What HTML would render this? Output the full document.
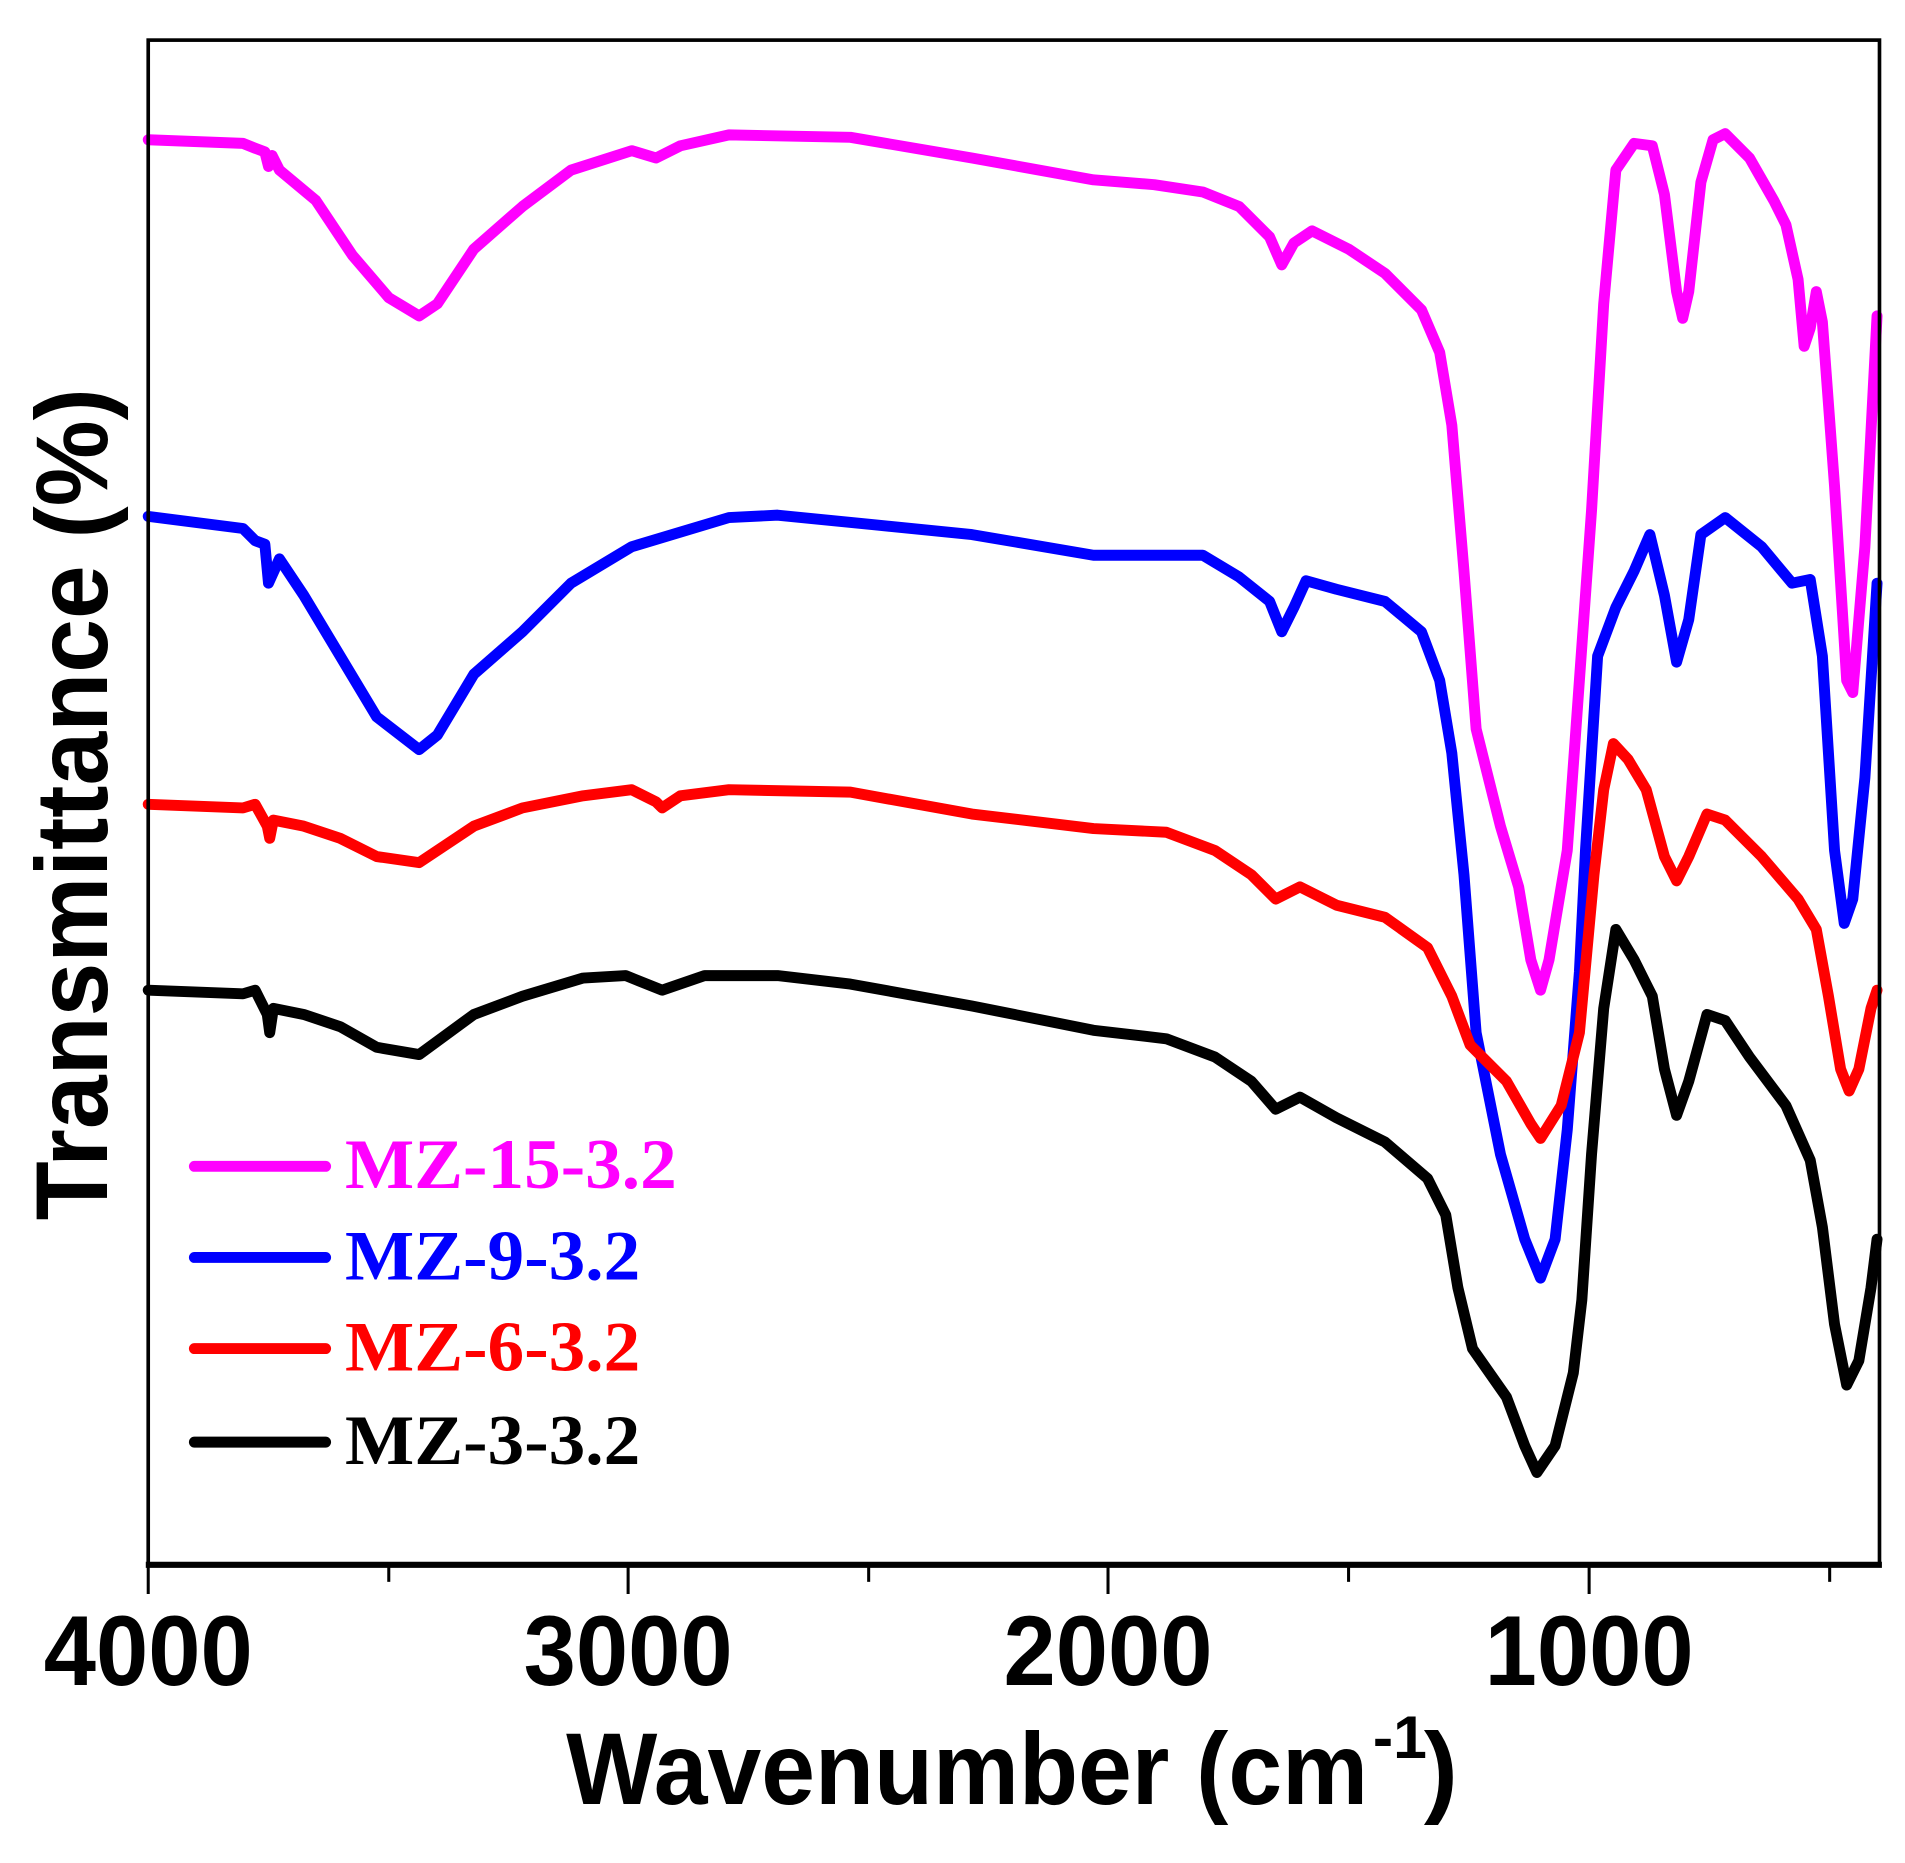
<!DOCTYPE html>
<html><head><style>html,body{margin:0;padding:0;background:#fff}svg{display:block}</style></head>
<body>
<svg width="1905" height="1863" viewBox="0 0 1568 1533.4" xmlns="http://www.w3.org/2000/svg">
<rect width="1568" height="1534" fill="#fff"/>
<g fill="none" stroke-width="9" stroke-linejoin="round" stroke-linecap="round">
<polyline stroke="#ff00ff" points="122,115 200,118 210,122 218,125 221,137 224,128 230,140 260,165 290,210 320,245 345,260 360,250 390,205 430,170 470,140 520,124 540,130 560,120 600,111 700,113 800,130 900,148 950,152 990,158 1020,170 1045,195 1055,218 1065,200 1080,190 1110,205 1140,225 1170,255 1185,290 1195,350 1205,470 1215,600 1235,680 1250,730 1260,790 1268,815 1275,790 1290,700 1300,560 1310,420 1320,250 1330,140 1345,118 1360,120 1370,160 1380,240 1385,262 1390,240 1400,150 1410,115 1420,110 1440,130 1460,165 1470,185 1480,230 1485,285 1490,270 1495,240 1500,265 1510,400 1520,560 1525,570 1535,450 1545,260"/>
<polyline stroke="#0000ff" points="122,425 200,435 210,445 218,448 221,480 230,460 250,490 280,540 310,590 345,617 360,605 390,555 430,520 470,480 520,450 560,438 600,426 640,424 720,432 800,440 900,457 990,457 1020,475 1045,495 1055,520 1065,500 1075,478 1100,485 1140,495 1170,520 1185,560 1195,620 1205,720 1215,850 1235,950 1255,1020 1268,1052 1280,1020 1290,930 1300,800 1305,700 1315,540 1330,500 1345,470 1358,440 1370,490 1380,545 1390,510 1400,440 1420,426 1450,450 1475,480 1490,477 1500,540 1510,700 1518,760 1525,740 1535,640 1545,480"/>
<polyline stroke="#ff0000" points="122,662 200,665 210,662 220,680 222,690 225,675 250,680 280,690 310,705 345,710 390,680 430,665 480,655 520,650 540,660 545,665 560,655 600,650 700,652 800,670 900,682 960,685 1000,700 1030,720 1050,740 1070,730 1100,745 1140,755 1175,780 1195,820 1210,860 1240,890 1260,925 1268,937 1285,910 1300,850 1312,720 1320,650 1328,612 1340,625 1355,650 1370,705 1380,725 1390,705 1405,670 1420,675 1450,705 1480,740 1495,765 1505,820 1515,880 1522,898 1530,880 1540,830 1545,815"/>
<polyline stroke="#000000" points="122,815 200,818 210,815 220,835 222,850 225,830 250,835 280,845 310,862 345,868 390,835 430,820 480,805 515,803 545,815 580,803 640,803 700,810 800,828 900,848 960,855 1000,870 1030,890 1050,913 1070,903 1100,920 1140,940 1175,970 1190,1000 1200,1060 1212,1110 1240,1150 1255,1190 1265,1212 1280,1190 1295,1130 1302,1070 1310,950 1320,830 1330,765 1345,790 1360,820 1370,880 1380,918 1390,890 1405,835 1420,840 1440,870 1470,910 1490,955 1500,1010 1510,1090 1520,1140 1530,1120 1540,1060 1545,1020"/>
</g>
<rect x="122" y="33" width="1425" height="1255" fill="none" stroke="#000" stroke-width="3"/>
<line x1="120" y1="1288" x2="1549" y2="1288" stroke="#000" stroke-width="5"/>
<g stroke="#000" stroke-width="2.5">
<line x1="122" y1="1288" x2="122" y2="1312"/><line x1="517" y1="1288" x2="517" y2="1312"/>
<line x1="912" y1="1288" x2="912" y2="1312"/><line x1="1308" y1="1288" x2="1308" y2="1312"/>
<line x1="320" y1="1288" x2="320" y2="1302"/><line x1="715" y1="1288" x2="715" y2="1302"/>
<line x1="1110" y1="1288" x2="1110" y2="1302"/><line x1="1506" y1="1288" x2="1506" y2="1302"/>
</g>
<g font-family="Liberation Sans, sans-serif" font-weight="bold" font-size="82" text-anchor="middle" fill="#000">
<text x="122" y="1387" textLength="172" lengthAdjust="spacingAndGlyphs">4000</text>
<text x="517" y="1387" textLength="172" lengthAdjust="spacingAndGlyphs">3000</text>
<text x="912" y="1387" textLength="172" lengthAdjust="spacingAndGlyphs">2000</text>
<text x="1308" y="1387" textLength="172" lengthAdjust="spacingAndGlyphs">1000</text>
<text x="466" y="1485" font-size="84" text-anchor="start" textLength="660" lengthAdjust="spacingAndGlyphs">Wavenumber (cm</text>
<text x="1130" y="1447" font-size="50" text-anchor="start">-1</text>
<text x="1172" y="1485" font-size="84" text-anchor="start">)</text>
<text transform="translate(88,662) rotate(-90)" font-size="84" textLength="685" lengthAdjust="spacingAndGlyphs">Transmittance (%)</text>
</g>
<g stroke-width="9" stroke-linecap="round">
<line x1="160" y1="960" x2="268" y2="960" stroke="#ff00ff"/>
<line x1="160" y1="1035" x2="268" y2="1035" stroke="#0000ff"/>
<line x1="160" y1="1110" x2="268" y2="1110" stroke="#ff0000"/>
<line x1="160" y1="1187" x2="268" y2="1187" stroke="#000"/>
</g>
<g font-family="Liberation Serif, serif" font-weight="bold" font-size="58">
<text x="284" y="978" fill="#ff00ff" textLength="273" lengthAdjust="spacingAndGlyphs">MZ-15-3.2</text>
<text x="284" y="1053" fill="#0000ff" textLength="243" lengthAdjust="spacingAndGlyphs">MZ-9-3.2</text>
<text x="284" y="1128" fill="#ff0000" textLength="243" lengthAdjust="spacingAndGlyphs">MZ-6-3.2</text>
<text x="284" y="1205" fill="#000" textLength="243" lengthAdjust="spacingAndGlyphs">MZ-3-3.2</text>
</g>
</svg>
</body></html>
